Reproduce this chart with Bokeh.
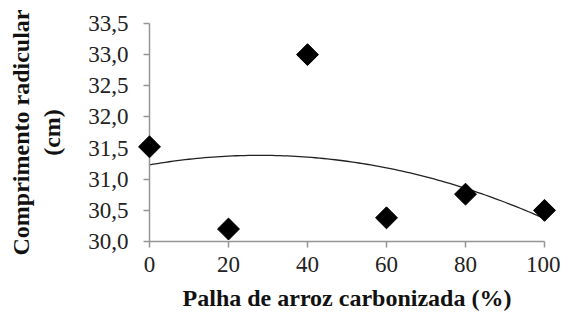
import numpy as np
from bokeh.plotting import figure
from bokeh.models import Range1d, FixedTicker, CustomJSTickFormatter
from bokeh.embed import file_html
from bokeh.resources import INLINE

palha = [0, 20, 40, 60, 80, 100]
comprimento = [31.52, 30.20, 33.00, 30.38, 30.76, 30.50]
y_ticks = [30.0, 30.5, 31.0, 31.5, 32.0, 32.5, 33.0, 33.5]
x_ticks = [0, 20, 40, 60, 80, 100]

# polynomial (2nd order) trend line fitted to the data
coef = np.polyfit(palha, comprimento, 2)
xs = np.linspace(0, 100, 101)
ys = np.polyval(coef, xs)

p = figure(width=560, height=318, output_backend="svg", toolbar_location=None,
           x_range=Range1d(0, 100), y_range=Range1d(30.0, 33.5),
           min_border_left=149, min_border_right=16, min_border_top=23, min_border_bottom=77)
p.outline_line_color = None
p.grid.visible = False
p.background_fill_color = "white"

p.line(xs, ys, line_color="#222222", line_width=1.3)
p.scatter(palha, comprimento, marker="square", angle=np.pi / 4, size=15.5,
          fill_color="black", line_color="black", level="overlay")

serif = "Liberation Serif"
for ax in (p.xaxis[0], p.yaxis[0]):
    ax.axis_line_color = "#959595"
    ax.axis_line_width = 1.5
    ax.major_tick_line_color = "#959595"
    ax.major_tick_line_width = 1.5
    ax.major_tick_out = 6
    ax.major_tick_in = 0
    ax.minor_tick_line_color = None
    ax.major_label_text_font = serif
    ax.major_label_text_font_size = "23px"
    ax.major_label_text_color = "#222222"
    ax.axis_label_text_font = serif
    ax.axis_label_text_font_style = "bold"
    ax.axis_label_text_font_size = "24px"
    ax.axis_label_text_color = "#111111"

p.xaxis.ticker = FixedTicker(ticks=x_ticks)
p.yaxis.ticker = FixedTicker(ticks=y_ticks)
p.yaxis.formatter = CustomJSTickFormatter(code="return tick.toFixed(1).replace('.', ',');")
p.xaxis.major_label_standoff = 9
p.yaxis.major_label_standoff = 15
p.xaxis.axis_label = "Palha de arroz carbonizada (%)"
p.yaxis.axis_label = "Comprimento radicular\n(cm)"
p.xaxis.axis_label_standoff = 10
p.yaxis.axis_label_standoff = 20

open("out.html", "w").write(file_html(p, INLINE))
